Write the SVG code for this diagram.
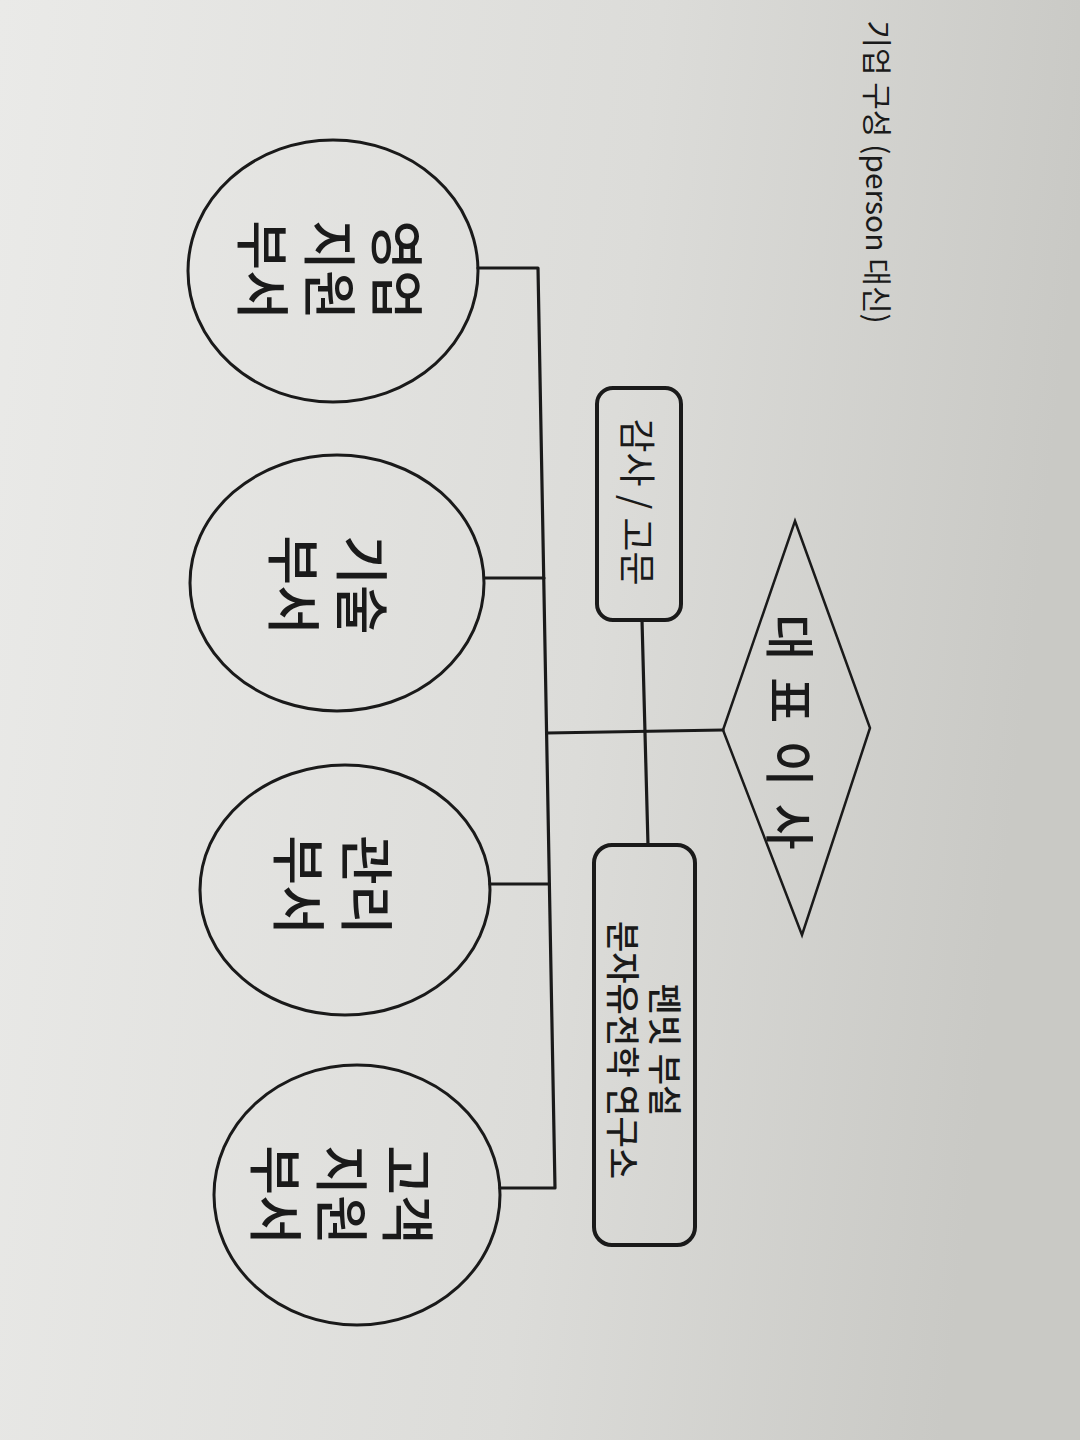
<svg xmlns="http://www.w3.org/2000/svg" width="1080" height="1440" viewBox="0 0 1080 1440">
<defs>
<linearGradient id="bg" x1="0" y1="0" x2="1" y2="0.15">
<stop offset="0" stop-color="#eaeae8"/>
<stop offset="0.6" stop-color="#dcdcd9"/>
<stop offset="1" stop-color="#c9c9c5"/>
</linearGradient>
<style>
.ln{fill:none;stroke:#1a1a1a;stroke-width:3.2;stroke-linecap:round;stroke-linejoin:round}
.circ{fill:none;stroke:#1a1a1a;stroke-width:3}
.box{fill:none;stroke:#1a1a1a;stroke-width:4}
.dia{fill:none;stroke:#1a1a1a;stroke-width:2.5;stroke-linejoin:miter}
.t{font-family:"Noto Sans CJK KR","Noto Sans",sans-serif;fill:#1a1a1a;text-anchor:middle;dominant-baseline:central}
.m{font-weight:500}
</style>
</defs>
<rect width="1080" height="1440" fill="url(#bg)"/>

<g id="title">
<text class="t" font-size="30" transform="translate(879,172) rotate(90)">기업 구성 (person 대신)</text>
</g>

<g id="connectors">
<polyline class="ln" points="478,268 538,268 555,1188 500,1188"/>
<line class="ln" x1="485" y1="578" x2="544" y2="578"/>
<line class="ln" x1="490" y1="884" x2="549" y2="884"/>
<line class="ln" x1="547" y1="733" x2="723" y2="730"/>
<line class="ln" x1="642" y1="620" x2="648" y2="845"/>
</g>

<g id="ceo">
<polygon class="dia" points="795,521 870,728 802,935 723,730"/>
<text class="t m" font-size="50" word-spacing="6" transform="translate(793,732) rotate(90)">대 표 이 사</text>
</g>

<g id="auditor">
<rect class="box" x="597" y="388" width="84" height="232" rx="16"/>
<text class="t" font-size="37" transform="translate(639,502) rotate(90)">감사 / 고문</text>
</g>

<g id="lab">
<rect class="box" x="594" y="845" width="101" height="400" rx="18"/>
<text class="t m" font-size="34" transform="translate(646,1050) rotate(90)"><tspan x="0" dy="-21">펜빗 부설</tspan><tspan x="0" dy="42">분자유전학 연구소</tspan></text>
</g>

<g id="sales">
<ellipse class="circ" cx="333" cy="271" rx="145" ry="131"/>
<text class="t m" font-size="54" transform="translate(333,270) rotate(90)"><tspan x="0" dy="-67">영업</tspan><tspan x="0" dy="67">지원</tspan><tspan x="0" dy="67">부서</tspan></text>
</g>

<g id="tech">
<ellipse class="circ" cx="337" cy="583" rx="147" ry="128"/>
<text class="t m" font-size="54" transform="translate(331,585) rotate(90)"><tspan x="0" dy="-34">기술</tspan><tspan x="0" dy="68">부서</tspan></text>
</g>

<g id="admin">
<ellipse class="circ" cx="345" cy="890" rx="145" ry="125"/>
<text class="t m" font-size="54" transform="translate(336,885) rotate(90)"><tspan x="0" dy="-34">관리</tspan><tspan x="0" dy="68">부서</tspan></text>
</g>

<g id="support">
<ellipse class="circ" cx="357" cy="1195" rx="143" ry="130"/>
<text class="t m" font-size="54" transform="translate(345,1195) rotate(90)"><tspan x="0" dy="-66">고객</tspan><tspan x="0" dy="66">지원</tspan><tspan x="0" dy="66">부서</tspan></text>
</g>
</svg>
